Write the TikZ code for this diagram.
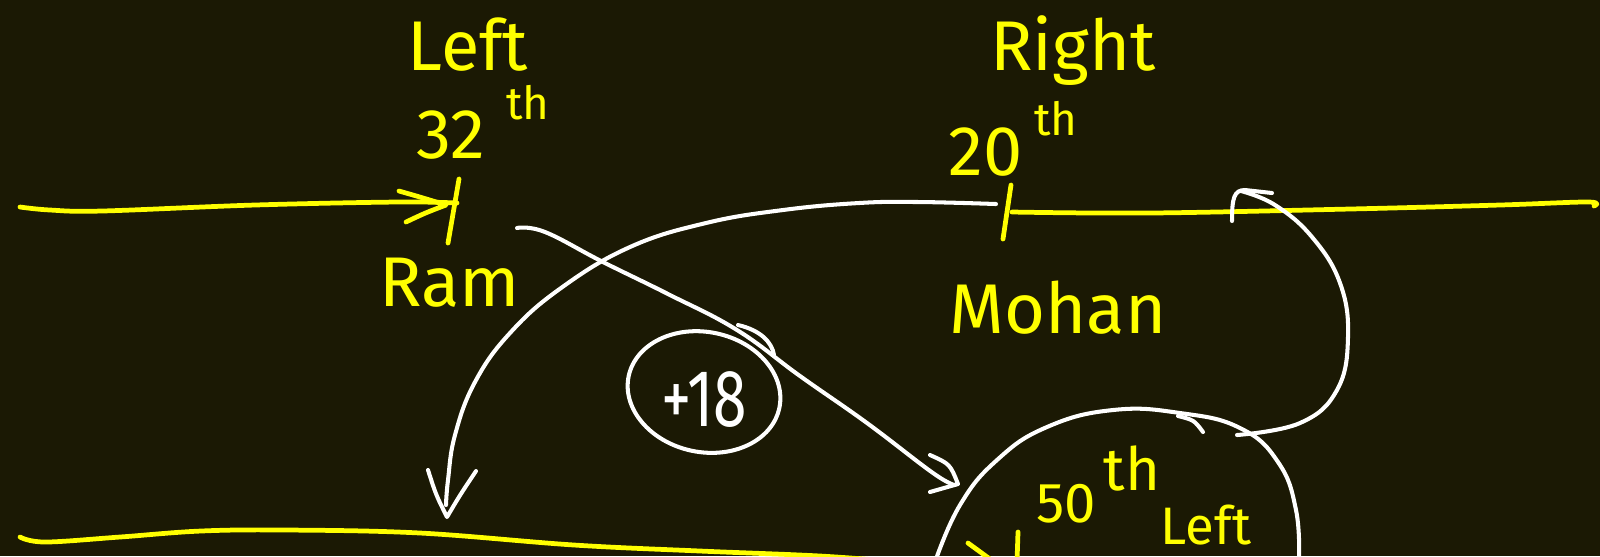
\documentclass[tikz,border=0pt]{standalone}
\usepackage{fontspec}
\setmainfont{Fira Sans}
\definecolor{bg}{RGB}{27,25,4}
\definecolor{hy}{RGB}{255,255,0}
\tikzset{
  ypen/.style={draw=hy, line width=1.35pt, line cap=round, line join=round},
  wpen/.style={draw=white, line width=1.15pt, line cap=round, line join=round},
  ytext/.style={text=hy, inner sep=0pt, anchor=base, font=\fontsize{20}{24}\selectfont},
  ysup/.style={ytext, font=\fontsize{13}{15}\selectfont},
  wtext/.style={text=white, inner sep=0pt, anchor=base, font=\fontsize{23}{26}\selectfont},
}
\begin{document}
\begin{tikzpicture}[x=0.01cm,y=-0.01cm]
\useasboundingbox (0,0) rectangle (1600,556);
\fill[bg] (0,0) rectangle (1600,556);
\clip (0,0) rectangle (1600,556);

% labels
\node[ytext] (left) at (468,70) {Left};
\node[ysup] (th1) at (528,119) {th};
\node[ytext] (n32) at (451,158) {32};
\node[ytext] (ram) at (450,306) {Ram};
\node[ytext] (right) at (1073,70) {Right};
\node[ytext] (n20) at (986,175) {20};
\node[ysup] (th2) at (1056,135) {th};
\node[ytext] (mohan) at (1058,333) {Mohan};
\node[wtext] (p18) at (704,426) {\scalebox{0.75}[1]{+18}};
\node[ytext, font=\fontsize{16}{18}\selectfont] (n50) at (1066,522) {50};
\node[ysup, font=\fontsize{17}{18}\selectfont] (th3) at (1132,490) {th};
\node[ytext, anchor=base west, font=\fontsize{15}{17}\selectfont] (left2) at (1160,544) {Left};

% key points
\coordinate (ramTickT) at (459,179);
\coordinate (ramTickB) at (448,243);
\coordinate (ramTip) at (446,205);
\coordinate (mohTickT) at (1011,185);
\coordinate (mohTickB) at (1003,239);
\coordinate (mohEnd) at (996,204);
\coordinate (arcTip) at (447,517);
\coordinate (ramStart) at (517,228);
\coordinate (downTip) at (958,484);
\coordinate (loopStart) at (1237,435);
\coordinate (loopTip) at (1241,191);
\coordinate (c18) at (704,392);

% top yellow lines and ticks
\draw[ypen] plot[smooth,tension=0.6] coordinates {(20,207) (50,210) (102,211) (255,205) (398,202) (457,203)};
\draw[ypen] (399,191) .. controls (420,197) .. (ramTip) .. controls (425,213) .. (406,222);
\draw[ypen] (ramTickT) -- (ramTickB);
\draw[ypen] (mohTickT) -- (mohTickB);
\draw[ypen] plot[smooth,tension=0.6] coordinates {(1012,212) (1150,213) (1350,209) (1500,205) (1588,202) (1594,206)};

% bottom yellow line and partial marks
\draw[ypen] plot[smooth,tension=0.6] coordinates {(20,537) (45,542) (120,537) (201,531) (287,530) (420,533) (574,545) (700,551) (820,556) (900,562)};
\draw[ypen] (968,543) -- (994,562);
\draw[ypen] (1018,532) -- (1017,562);

% white arc from Mohan down to bottom line
\draw[wpen] plot[smooth,tension=0.7] coordinates {(mohEnd) (918,202) (859,203) (783,210) (706,223) (630,247) (561,288) (510,333) (475,382) (455,435) (448,480) (446,505)};
\draw[wpen] (428,470) .. controls (436,495) .. (arcTip) .. controls (460,495) .. (476,471);

% white line from Ram to big circle
\draw[wpen] plot[smooth,tension=0.7] coordinates {(ramStart) (545,232) (603,262) (668,294) (737,330) (800,376) (867,423) (933,473) (955,485)};
\draw[wpen] (930,455) .. controls (950,464) .. (downTip) -- (930,492);

% +18 ellipse
\draw[wpen, rotate around={-12:(c18)}] (c18) ellipse [x radius=77, y radius=60];
\draw[wpen] (738,325) .. controls (760,330) and (772,342) .. (774,355);

% big circle
\draw[wpen] plot[smooth,tension=0.75] coordinates {(935,562) (960,505) (997,460) (1047,427) (1113,410) (1180,413) (1240,428) (1278,462) (1296,510) (1299,562)};
\draw[wpen] (1178,416) .. controls (1194,420) .. (1203,432);

% loop arrow from circle up to top line
\draw[wpen] plot[smooth,tension=0.7] coordinates {(loopStart) (1300,423) (1337,390) (1348,337) (1340,283) (1312,237) (1275,205) (loopTip)};
\draw[wpen] (1232,221) .. controls (1232,198) and (1234,190) .. (1245,190) -- (1272,193);
\end{tikzpicture}
\end{document}
